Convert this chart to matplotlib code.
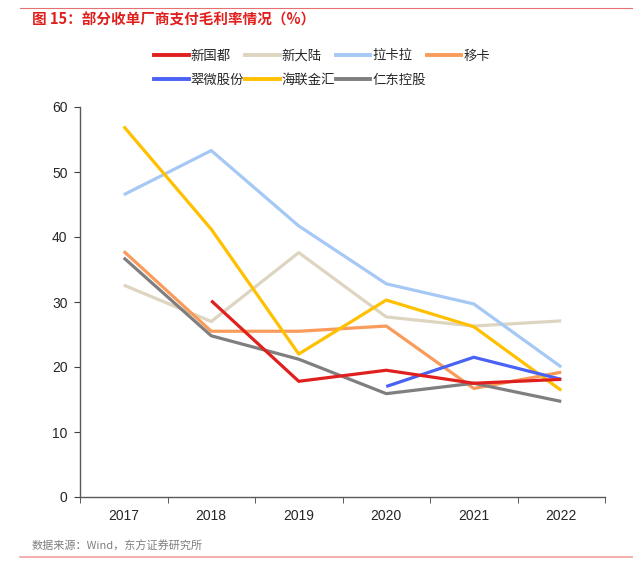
import numpy as np
import matplotlib
matplotlib.use("Agg")
import matplotlib.pyplot as plt
from matplotlib.lines import Line2D

plt.rcParams['font.family'] = ['Noto Sans CJK SC', 'DejaVu Sans']

years = ['2017', '2018', '2019', '2020', '2021', '2022']
names = ['新国都', '新大陆', '拉卡拉', '移卡', '翠微股份', '海联金汇', '仁东控股']
colors = ['#E0201E', '#DDD5C0', '#A6C8F5', '#F99B5B', '#4A62F5', '#FFC000', '#7F7F7F']

xinguodu = [np.nan, 30.2, 17.8, 19.5, 17.5, 18.1]
xindalu = [32.6, 27.0, 37.6, 27.7, 26.3, 27.1]
lakala = [46.5, 53.3, 41.7, 32.8, 29.7, 20.0]
yika = [37.8, 25.5, 25.5, 26.3, 16.7, 19.2]
cuiwei = [np.nan, np.nan, np.nan, 17.0, 21.5, 18.1]
hailian = [57.0, 41.2, 22.0, 30.3, 26.2, 16.4]
rendong = [36.8, 24.8, 21.2, 15.9, 17.5, 14.7]
series = [xinguodu, xindalu, lakala, yika, cuiwei, hailian, rendong]

# draw order so that overlaps look like the reference
order = [1, 2, 3, 6, 5, 4, 0]

fig = plt.figure(figsize=(6.33, 5.62), dpi=100)
ax = fig.add_axes([80/633, 1-497/562, 525/633, 390/562])

x = np.arange(len(years))
for i in order:
    ax.plot(x, series[i], color=colors[i], lw=2.3, solid_capstyle='butt', zorder=3)

ax.set_xlim(-0.5, 5.5)
ax.set_ylim(0, 60)
ax.set_yticks(range(0, 61, 10))
ax.set_xticks(x)
ax.set_xticklabels(years)
ax.set_xticks(np.arange(-0.5, 6, 1), minor=True)
ax.tick_params(axis='x', which='major', length=0, pad=9)
ax.tick_params(axis='x', which='minor', length=4, color='#404040', direction='out')
ax.tick_params(axis='y', length=4, color='#404040', direction='out', pad=5)
for lab in ax.get_xticklabels() + ax.get_yticklabels():
    lab.set_fontfamily(['Liberation Sans', 'DejaVu Sans'])
    lab.set_fontsize(10)
    lab.set_color('#262626')
for s in ['top', 'right']:
    ax.spines[s].set_visible(False)
for s in ['left', 'bottom']:
    ax.spines[s].set_color('#595959')
    ax.spines[s].set_linewidth(1.0)

# legend filled row by row (matplotlib fills by column)
handles = [Line2D([], [], color=c, lw=2.8) for c in colors]
leg_order = [0, 4, 1, 5, 2, 6, 3]
leg = fig.legend([handles[i] for i in leg_order], [names[i] for i in leg_order],
                 loc='center', bbox_to_anchor=(322/633, 1-67.5/562),
                 ncol=4, frameon=False, fontsize=9.6, handlelength=2.6,
                 handletextpad=0.15, columnspacing=0.05, labelspacing=0.75)
for t in leg.get_texts():
    t.set_color('#262626')

fig.text(32/633, 1-20/562, '图 15：部分收单厂商支付毛利率情况（%）', color='#E0201E',
         fontsize=10.5, fontweight='bold', va='center', ha='left')
fig.text(32/633, 1-546/562, '数据来源：Wind，东方证券研究所', color='#7F7F7F',
         fontsize=8, va='center', ha='left')
fig.add_artist(Line2D([20/633, 1], [1-8/562, 1-8/562], color='#E87070', lw=0.8))
fig.add_artist(Line2D([20/633, 1], [1-557/562, 1-557/562], color='#F4A0A0', lw=1.2))

fig.savefig('out.png', dpi=100)
